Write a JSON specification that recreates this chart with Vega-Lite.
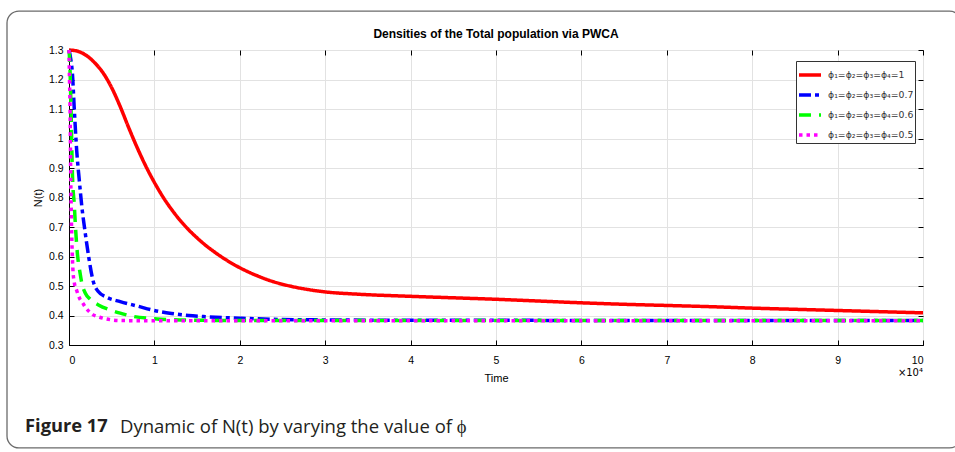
{
  "$schema": "https://vega.github.io/schema/vega-lite/v6.json",
  "width": 854,
  "height": 295,
  "autosize": {"type": "none"},
  "padding": {"left": 69, "top": 50, "right": 32, "bottom": 107},
  "background": "white",
  "title": {
    "text": "Densities of the Total population via PWCA",
    "frame": "group",
    "font": "Liberation Sans",
    "fontSize": 12,
    "fontWeight": "bold",
    "color": "#000000",
    "anchor": "middle",
    "offset": 0,
    "dy": 31
  },
  "config": {
    "view": {"stroke": "#000000", "strokeWidth": 1},
    "font": "Liberation Sans"
  },
  "datasets": {
    "curves": [
      {"phi": "1", "time": 0, "N": 1.300},
      {"phi": "1", "time": 1000, "N": 1.296},
      {"phi": "1", "time": 2000, "N": 1.282},
      {"phi": "1", "time": 3000, "N": 1.257},
      {"phi": "1", "time": 4000, "N": 1.222},
      {"phi": "1", "time": 5000, "N": 1.172},
      {"phi": "1", "time": 6000, "N": 1.108},
      {"phi": "1", "time": 7000, "N": 1.036},
      {"phi": "1", "time": 8000, "N": 0.968},
      {"phi": "1", "time": 9000, "N": 0.906},
      {"phi": "1", "time": 10000, "N": 0.851},
      {"phi": "1", "time": 11000, "N": 0.802},
      {"phi": "1", "time": 12000, "N": 0.760},
      {"phi": "1", "time": 13000, "N": 0.723},
      {"phi": "1", "time": 14000, "N": 0.691},
      {"phi": "1", "time": 15000, "N": 0.663},
      {"phi": "1", "time": 16000, "N": 0.638},
      {"phi": "1", "time": 17000, "N": 0.616},
      {"phi": "1", "time": 18000, "N": 0.596},
      {"phi": "1", "time": 19000, "N": 0.578},
      {"phi": "1", "time": 20000, "N": 0.562},
      {"phi": "1", "time": 22000, "N": 0.535},
      {"phi": "1", "time": 24000, "N": 0.514},
      {"phi": "1", "time": 26000, "N": 0.499},
      {"phi": "1", "time": 28000, "N": 0.488},
      {"phi": "1", "time": 30000, "N": 0.480},
      {"phi": "1", "time": 34000, "N": 0.472},
      {"phi": "1", "time": 40000, "N": 0.465},
      {"phi": "1", "time": 45000, "N": 0.460},
      {"phi": "1", "time": 50000, "N": 0.455},
      {"phi": "1", "time": 55000, "N": 0.449},
      {"phi": "1", "time": 60000, "N": 0.443},
      {"phi": "1", "time": 65000, "N": 0.438},
      {"phi": "1", "time": 70000, "N": 0.434},
      {"phi": "1", "time": 75000, "N": 0.430},
      {"phi": "1", "time": 80000, "N": 0.425},
      {"phi": "1", "time": 85000, "N": 0.421},
      {"phi": "1", "time": 90000, "N": 0.417},
      {"phi": "1", "time": 95000, "N": 0.413},
      {"phi": "1", "time": 100000, "N": 0.409},

      {"phi": "0.7", "time": 0, "N": 1.300},
      {"phi": "0.7", "time": 200, "N": 1.270},
      {"phi": "0.7", "time": 400, "N": 1.220},
      {"phi": "0.7", "time": 600, "N": 1.110},
      {"phi": "0.7", "time": 900, "N": 0.960},
      {"phi": "0.7", "time": 1200, "N": 0.860},
      {"phi": "0.7", "time": 1500, "N": 0.770},
      {"phi": "0.7", "time": 1900, "N": 0.680},
      {"phi": "0.7", "time": 2300, "N": 0.600},
      {"phi": "0.7", "time": 2800, "N": 0.520},
      {"phi": "0.7", "time": 3400, "N": 0.482},
      {"phi": "0.7", "time": 4400, "N": 0.462},
      {"phi": "0.7", "time": 6000, "N": 0.447},
      {"phi": "0.7", "time": 8000, "N": 0.432},
      {"phi": "0.7", "time": 10000, "N": 0.417},
      {"phi": "0.7", "time": 12000, "N": 0.407},
      {"phi": "0.7", "time": 14000, "N": 0.400},
      {"phi": "0.7", "time": 16000, "N": 0.396},
      {"phi": "0.7", "time": 20000, "N": 0.391},
      {"phi": "0.7", "time": 24000, "N": 0.387},
      {"phi": "0.7", "time": 30000, "N": 0.385},
      {"phi": "0.7", "time": 40000, "N": 0.384},
      {"phi": "0.7", "time": 50000, "N": 0.384},
      {"phi": "0.7", "time": 60000, "N": 0.383},
      {"phi": "0.7", "time": 70000, "N": 0.383},
      {"phi": "0.7", "time": 80000, "N": 0.383},
      {"phi": "0.7", "time": 90000, "N": 0.383},
      {"phi": "0.7", "time": 100000, "N": 0.383},

      {"phi": "0.6", "time": 0, "N": 1.300},
      {"phi": "0.6", "time": 100, "N": 1.250},
      {"phi": "0.6", "time": 230, "N": 1.110},
      {"phi": "0.6", "time": 400, "N": 0.880},
      {"phi": "0.6", "time": 630, "N": 0.770},
      {"phi": "0.6", "time": 780, "N": 0.690},
      {"phi": "0.6", "time": 980, "N": 0.611},
      {"phi": "0.6", "time": 1300, "N": 0.543},
      {"phi": "0.6", "time": 1500, "N": 0.510},
      {"phi": "0.6", "time": 1900, "N": 0.476},
      {"phi": "0.6", "time": 2500, "N": 0.455},
      {"phi": "0.6", "time": 3500, "N": 0.435},
      {"phi": "0.6", "time": 4800, "N": 0.419},
      {"phi": "0.6", "time": 6000, "N": 0.408},
      {"phi": "0.6", "time": 7500, "N": 0.397},
      {"phi": "0.6", "time": 10000, "N": 0.389},
      {"phi": "0.6", "time": 13000, "N": 0.385},
      {"phi": "0.6", "time": 20000, "N": 0.383},
      {"phi": "0.6", "time": 30000, "N": 0.383},
      {"phi": "0.6", "time": 40000, "N": 0.383},
      {"phi": "0.6", "time": 50000, "N": 0.383},
      {"phi": "0.6", "time": 60000, "N": 0.383},
      {"phi": "0.6", "time": 70000, "N": 0.383},
      {"phi": "0.6", "time": 80000, "N": 0.383},
      {"phi": "0.6", "time": 90000, "N": 0.383},
      {"phi": "0.6", "time": 100000, "N": 0.383},

      {"phi": "0.5", "time": 0, "N": 1.300},
      {"phi": "0.5", "time": 60, "N": 1.200},
      {"phi": "0.5", "time": 120, "N": 1.110},
      {"phi": "0.5", "time": 200, "N": 0.880},
      {"phi": "0.5", "time": 300, "N": 0.700},
      {"phi": "0.5", "time": 450, "N": 0.560},
      {"phi": "0.5", "time": 600, "N": 0.515},
      {"phi": "0.5", "time": 900, "N": 0.485},
      {"phi": "0.5", "time": 1300, "N": 0.455},
      {"phi": "0.5", "time": 1500, "N": 0.447},
      {"phi": "0.5", "time": 2000, "N": 0.425},
      {"phi": "0.5", "time": 2800, "N": 0.403},
      {"phi": "0.5", "time": 3600, "N": 0.394},
      {"phi": "0.5", "time": 4800, "N": 0.386},
      {"phi": "0.5", "time": 6000, "N": 0.383},
      {"phi": "0.5", "time": 10000, "N": 0.382},
      {"phi": "0.5", "time": 20000, "N": 0.382},
      {"phi": "0.5", "time": 30000, "N": 0.382},
      {"phi": "0.5", "time": 40000, "N": 0.382},
      {"phi": "0.5", "time": 50000, "N": 0.382},
      {"phi": "0.5", "time": 60000, "N": 0.382},
      {"phi": "0.5", "time": 70000, "N": 0.382},
      {"phi": "0.5", "time": 80000, "N": 0.382},
      {"phi": "0.5", "time": 90000, "N": 0.382},
      {"phi": "0.5", "time": 100000, "N": 0.382}
    ]
  },
  "layer": [
    {
      "data": {"values": [{}]},
      "mark": {"type": "rect", "fill": "transparent", "stroke": "#6b6b6b", "strokeWidth": 1.3, "cornerRadius": 12},
      "encoding": {
        "x": {"datum": -7260, "type": "quantitative", "scale": {"domain": [0, 100000], "nice": false}, "axis": null},
        "x2": {"datum": 104500},
        "y": {"datum": 1.432, "type": "quantitative", "scale": {"domain": [0.3, 1.3], "nice": false, "zero": false}, "axis": null},
        "y2": {"datum": -0.049}
      }
    },
    {
      "data": {"name": "curves"},
      "mark": {"type": "line", "strokeWidth": 3.5, "interpolate": "monotone", "strokeCap": "butt"},
      "encoding": {
        "x": {
          "field": "time",
          "type": "quantitative",
          "scale": {"domain": [0, 100000], "nice": false},
          "axis": {
            "orient": "bottom",
            "values": [0, 10000, 20000, 30000, 40000, 50000, 60000, 70000, 80000, 90000, 100000],
            "labelExpr": "format(datum.value / 10000, 'd')",
            "title": "Time",
            "grid": true,
            "gridColor": "#e2e2e2",
            "domainColor": "#000000",
            "tickColor": "#000000",
            "tickSize": -5,
            "labelPadding": 15,
            "labelFont": "Liberation Sans",
            "labelFontSize": 10.5,
            "labelColor": "#000000",
            "titleFont": "Liberation Sans",
            "titleFontSize": 11,
            "titleFontWeight": "normal",
            "titleColor": "#000000",
            "titlePadding": 7
          }
        },
        "y": {
          "field": "N",
          "type": "quantitative",
          "scale": {"domain": [0.3, 1.3], "nice": false, "zero": false},
          "axis": {
            "orient": "left",
            "values": [0.3, 0.4, 0.5, 0.6, 0.7, 0.8, 0.9, 1, 1.1, 1.2, 1.3],
            "format": "~g",
            "title": "N(t)",
            "grid": true,
            "gridColor": "#e2e2e2",
            "domainColor": "#000000",
            "tickColor": "#000000",
            "tickSize": -5,
            "labelPadding": 11,
            "labelFont": "Liberation Sans",
            "labelFontSize": 10.5,
            "labelColor": "#000000",
            "titleFont": "Liberation Sans",
            "titleFontSize": 11,
            "titleFontWeight": "normal",
            "titleColor": "#000000",
            "titlePadding": 5
          }
        },
        "color": {
          "field": "phi",
          "type": "nominal",
          "scale": {"domain": ["1", "0.7", "0.6", "0.5"], "range": ["#ff0000", "#0000ff", "#00ff00", "#ff00ff"]},
          "legend": {
            "title": null,
            "orient": "none",
            "legendX": 727,
            "legendY": 11,
            "fillColor": "#ffffff",
            "strokeColor": "#333333",
            "padding": 1,
            "symbolType": "stroke",
            "symbolSize": 484,
            "symbolStrokeWidth": 3.5,
            "labelFont": "DejaVu Sans",
            "labelFontSize": 9.3,
            "labelColor": "#333333",
            "labelOffset": 5,
            "rowPadding": -1.7,
            "labelExpr": "'ϕ₁=ϕ₂=ϕ₃=ϕ₄=' + datum.label"
          }
        },
        "strokeDash": {
          "field": "phi",
          "type": "nominal",
          "scale": {"domain": ["1", "0.7", "0.6", "0.5"], "range": [[1, 0], [12, 4, 4, 4], [12, 8], [3.5, 4]]},
          "legend": {
            "title": null,
            "orient": "none",
            "legendX": 727,
            "legendY": 11,
            "fillColor": "#ffffff",
            "strokeColor": "#333333",
            "padding": 1,
            "symbolType": "stroke",
            "symbolSize": 484,
            "symbolStrokeWidth": 3.5,
            "labelFont": "DejaVu Sans",
            "labelFontSize": 9.3,
            "labelColor": "#333333",
            "labelOffset": 5,
            "rowPadding": -1.7,
            "labelExpr": "'ϕ₁=ϕ₂=ϕ₃=ϕ₄=' + datum.label"
          }
        }
      }
    },
    {
      "data": {"values": [{}]},
      "mark": {"type": "text", "text": "Figure 17", "align": "left", "baseline": "middle", "font": "Open Sans", "fontSize": 18.3, "fontWeight": "bold", "color": "#231f20"},
      "encoding": {
        "x": {"datum": -5150, "type": "quantitative", "scale": {"domain": [0, 100000], "nice": false}, "axis": null},
        "y": {"datum": 0.022, "type": "quantitative", "scale": {"domain": [0.3, 1.3], "nice": false, "zero": false}, "axis": null}
      }
    },
    {
      "data": {"values": [{}]},
      "mark": {"type": "text", "text": "Dynamic of N(t) by varying the value of ϕ", "align": "left", "baseline": "middle", "font": "Open Sans", "fontSize": 18.5, "color": "#231f20"},
      "encoding": {
        "x": {"datum": 5970, "type": "quantitative", "scale": {"domain": [0, 100000], "nice": false}, "axis": null},
        "y": {"datum": 0.022, "type": "quantitative", "scale": {"domain": [0.3, 1.3], "nice": false, "zero": false}, "axis": null}
      }
    },
    {
      "data": {"values": [{}]},
      "mark": {"type": "text", "text": "×10⁴", "align": "right", "baseline": "middle", "font": "DejaVu Sans", "fontSize": 10, "color": "#000000"},
      "encoding": {
        "x": {
          "datum": 100000,
          "type": "quantitative",
          "scale": {"domain": [0, 100000], "nice": false},
          "axis": {
            "orient": "top",
            "values": [0, 10000, 20000, 30000, 40000, 50000, 60000, 70000, 80000, 90000, 100000],
            "labels": false,
            "grid": false,
            "domain": false,
            "tickColor": "#000000",
            "tickSize": -5,
            "title": null
          }
        },
        "y": {
          "datum": 0.205,
          "type": "quantitative",
          "scale": {"domain": [0.3, 1.3], "nice": false, "zero": false},
          "axis": {
            "orient": "right",
            "values": [0.3, 0.4, 0.5, 0.6, 0.7, 0.8, 0.9, 1, 1.1, 1.2, 1.3],
            "labels": false,
            "grid": false,
            "domain": false,
            "tickColor": "#000000",
            "tickSize": -5,
            "title": null
          }
        }
      }
    }
  ],
  "resolve": {"axis": {"x": "independent", "y": "independent"}}
}
